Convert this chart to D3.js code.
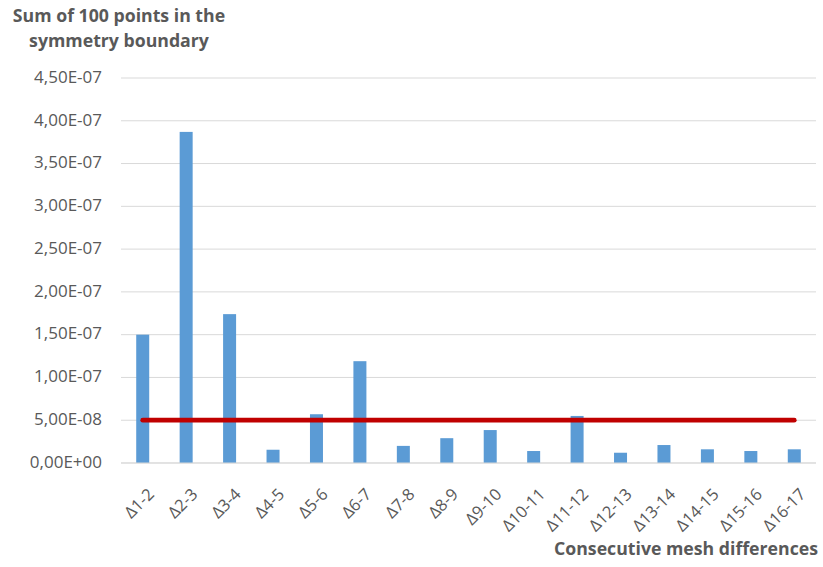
<!DOCTYPE html>
<html>
<head>
<meta charset="utf-8">
<script src="https://cdn.jsdelivr.net/npm/d3@7"></script>
<style>
  html, body { margin: 0; padding: 0; background: #fff; }
  svg text { font-family: "Open Sans", "Noto Sans", sans-serif; }
</style>
</head>
<body>
<svg id="chart" width="823" height="567"></svg>
<script>
// Mesh-pair labels and summed differences over the 100 boundary points
const categories = ["Δ1-2","Δ2-3","Δ3-4","Δ4-5","Δ5-6","Δ6-7","Δ7-8","Δ8-9","Δ9-10",
  "Δ10-11","Δ11-12","Δ12-13","Δ13-14","Δ14-15","Δ15-16","Δ16-17"];
const sums = [1.50e-7, 3.87e-7, 1.74e-7, 1.55e-8, 5.7e-8, 1.19e-7, 2.0e-8, 2.9e-8, 3.85e-8,
  1.4e-8, 5.5e-8, 1.2e-8, 2.1e-8, 1.6e-8, 1.4e-8, 1.6e-8];
const threshold = 5e-8;
const yTicks = [0, 0.5e-7, 1e-7, 1.5e-7, 2e-7, 2.5e-7, 3e-7, 3.5e-7, 4e-7, 4.5e-7];

const svg = d3.select("#chart");
const plotLeft = 121, plotRight = 816, plotTop = 78, plotBottom = 463;
const textColor = "#595959";

const xc = d3.scalePoint().domain(categories).range([plotLeft, plotRight]).padding(0.5);
const y = d3.scaleLinear().domain([0, 4.5e-7]).range([plotBottom, plotTop]);

// Scientific format with comma decimal separator
const fmt = v => {
  if (v === 0) return "0,00E+00";
  const e = Math.floor(Math.log10(v) + 1e-9);
  const m = v / Math.pow(10, e);
  const sign = e < 0 ? "-" : "+";
  return m.toFixed(2).replace(".", ",") + "E" + sign + String(Math.abs(e)).padStart(2, "0");
};

// Horizontal gridlines
svg.append("g").selectAll("line").data(yTicks).join("line")
  .attr("x1", plotLeft).attr("x2", plotRight)
  .attr("y1", d => y(d)).attr("y2", d => y(d))
  .attr("stroke", "#d9d9d9").attr("stroke-width", 1);

// Y axis labels
const yAxis = d3.axisLeft(y).tickValues(yTicks).tickFormat(fmt).tickSize(0).tickPadding(19);
const gy = svg.append("g").attr("transform", `translate(${plotLeft},0)`).call(yAxis);
gy.select(".domain").remove();
gy.selectAll("text").attr("font-size", 17).attr("fill", textColor).attr("dy", "0.25em")
  .style("font-family", "'Open Sans', 'Noto Sans', sans-serif");

// Bars
svg.append("g").selectAll("rect").data(sums).join("rect")
  .attr("x", (d, i) => xc(categories[i]) - 6.5)
  .attr("width", 13)
  .attr("y", d => y(d))
  .attr("height", d => plotBottom - y(d))
  .attr("fill", "#5b9bd5");

// Baseline
svg.append("line").attr("x1", plotLeft).attr("x2", plotRight)
  .attr("y1", plotBottom).attr("y2", plotBottom)
  .attr("stroke", "#d9d9d9").attr("stroke-width", 1);

// Threshold line
svg.append("line")
  .attr("x1", xc(categories[0])).attr("x2", xc(categories[categories.length - 1]))
  .attr("y1", y(threshold)).attr("y2", y(threshold))
  .attr("stroke", "#c00000").attr("stroke-width", 4.7).attr("stroke-linecap", "round");

// Category labels, rotated
svg.append("g").selectAll("text").data(categories).join("text")
  .attr("transform", d => `translate(${xc(d) + 4},${plotBottom + 24}) rotate(-45)`)
  .attr("text-anchor", "end")
  .attr("dy", "0.72em")
  .attr("font-size", 16.5)
  .attr("fill", textColor)
  .text(d => d);

// Axis titles
const yTitle = svg.append("text").attr("text-anchor", "middle")
  .attr("font-size", 17.7).attr("font-weight", "bold").attr("fill", textColor);
yTitle.append("tspan").attr("x", 119).attr("y", 22).text("Sum of 100 points in the");
yTitle.append("tspan").attr("x", 119).attr("y", 47).text("symmetry boundary");

svg.append("text").attr("x", 818).attr("y", 554.5).attr("text-anchor", "end")
  .attr("font-size", 17.7).attr("font-weight", "bold").attr("fill", textColor)
  .text("Consecutive  mesh differences");
</script>
</body>
</html>
